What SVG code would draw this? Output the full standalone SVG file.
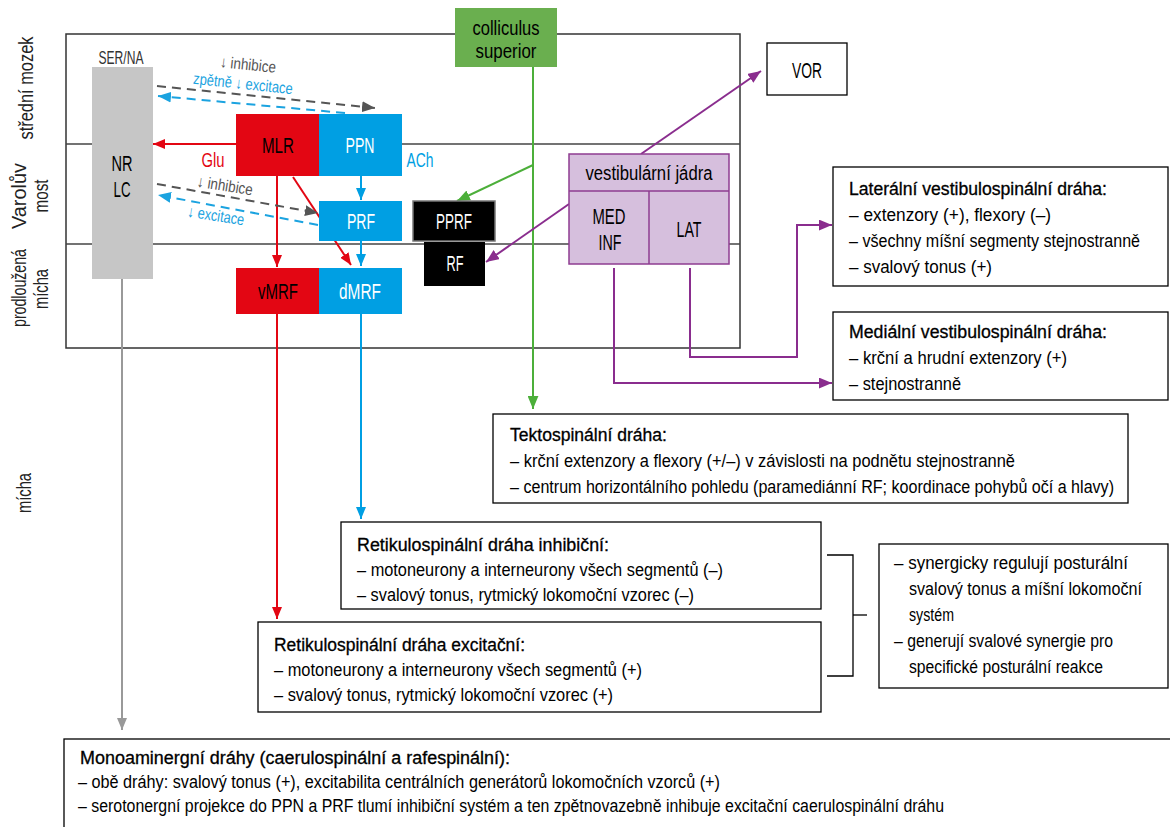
<svg xmlns="http://www.w3.org/2000/svg" width="1170" height="827" viewBox="0 0 1170 827">
<style>
text{font-family:"Liberation Sans",Arial,sans-serif;}
.lbl{font-size:22px;text-anchor:middle;}
.body{font-size:17.5px;fill:#000;}
.ttl{font-size:17.5px;fill:#000;stroke:#000;stroke-width:0.3;}
.side{font-size:21px;fill:#222;text-anchor:middle;}
.dl{font-size:16px;text-anchor:middle;}
.box{fill:#fff;stroke:#000;stroke-width:1.3;}
.ln{fill:none;stroke-width:2;}
</style>
<defs>
<marker id="aR" viewBox="0 0 12 10" refX="12" refY="5" markerWidth="12" markerHeight="10" markerUnits="userSpaceOnUse" orient="auto"><path d="M0,0L12,5L0,10z" fill="#e30613"/></marker>
<marker id="aB" viewBox="0 0 12 10" refX="12" refY="5" markerWidth="12" markerHeight="10" markerUnits="userSpaceOnUse" orient="auto"><path d="M0,0L12,5L0,10z" fill="#009fe3"/></marker>
<marker id="aG" viewBox="0 0 12 10" refX="12" refY="5" markerWidth="13" markerHeight="11" markerUnits="userSpaceOnUse" orient="auto"><path d="M0,0L12,5L0,10z" fill="#4caf3a"/></marker>
<marker id="aP" viewBox="0 0 12 10" refX="12" refY="5" markerWidth="13" markerHeight="11" markerUnits="userSpaceOnUse" orient="auto"><path d="M0,0L12,5L0,10z" fill="#8a2d8e"/></marker>
<marker id="aK" viewBox="0 0 12 10" refX="12" refY="5" markerWidth="13" markerHeight="11" markerUnits="userSpaceOnUse" orient="auto"><path d="M0,0L12,5L0,10z" fill="#555"/></marker>
<marker id="aL" viewBox="0 0 12 10" refX="12" refY="5" markerWidth="12" markerHeight="10" markerUnits="userSpaceOnUse" orient="auto"><path d="M0,0L12,5L0,10z" fill="#999"/></marker>
<marker id="aC" viewBox="0 0 12 10" refX="12" refY="5" markerWidth="13" markerHeight="11" markerUnits="userSpaceOnUse" orient="auto"><path d="M0,0L12,5L0,10z" fill="#1ba3e0"/></marker>
</defs>
<rect width="1170" height="827" fill="#fff"/>

<!-- side labels -->
<g id="side-labels">
<text class="side" transform="translate(33,88) rotate(-90)" textLength="103" lengthAdjust="spacingAndGlyphs">střední mozek</text>
<text class="side" transform="translate(26,196) rotate(-90)" textLength="66" lengthAdjust="spacingAndGlyphs">Varolův</text>
<text class="side" transform="translate(48,196) rotate(-90)" textLength="33" lengthAdjust="spacingAndGlyphs">most</text>
<text class="side" transform="translate(26,288) rotate(-90)" textLength="78" lengthAdjust="spacingAndGlyphs">prodloužená</text>
<text class="side" transform="translate(48,289) rotate(-90)" textLength="40" lengthAdjust="spacingAndGlyphs">mícha</text>
<text class="side" transform="translate(31,493) rotate(-90)" textLength="40" lengthAdjust="spacingAndGlyphs">mícha</text>
</g>

<!-- frame -->
<g id="frame">
<rect x="66" y="34" width="674" height="314" fill="none" stroke="#333" stroke-width="1.5"/>
<line x1="66" y1="144" x2="740" y2="144" stroke="#444" stroke-width="1.5"/>
<line x1="66" y1="244" x2="740" y2="244" stroke="#444" stroke-width="1.5"/>
</g>

<!-- connectors -->
<g id="connectors">
<line class="ln" x1="122" y1="279" x2="122" y2="730" stroke="#999" marker-end="url(#aL)"/>
<line class="ln" x1="236" y1="144" x2="153" y2="144" stroke="#e30613" marker-end="url(#aR)"/>
<line class="ln" x1="277" y1="176" x2="277" y2="267" stroke="#e30613" marker-end="url(#aR)"/>
<line class="ln" x1="293" y1="177" x2="351" y2="265" stroke="#e30613" marker-end="url(#aR)"/>
<line class="ln" x1="361" y1="176" x2="361" y2="200" stroke="#009fe3" marker-end="url(#aB)"/>
<line class="ln" x1="361" y1="241" x2="361" y2="266" stroke="#009fe3" marker-end="url(#aB)"/>
<line class="ln" x1="277" y1="314" x2="277" y2="619" stroke="#e30613" marker-end="url(#aR)"/>
<line class="ln" x1="361" y1="314" x2="361" y2="519" stroke="#009fe3" marker-end="url(#aB)"/>
<line class="ln" x1="533" y1="67" x2="533" y2="409" stroke="#4caf3a" marker-end="url(#aG)"/>
<line class="ln" x1="533" y1="165" x2="457" y2="201" stroke="#4caf3a" marker-end="url(#aG)"/>
<line class="ln" x1="641" y1="154" x2="761" y2="71" stroke="#8a2d8e" marker-end="url(#aP)"/>
<line class="ln" x1="569" y1="204" x2="486" y2="262" stroke="#8a2d8e" marker-end="url(#aP)"/>
<polyline class="ln" points="614,268 614,383 832,383" stroke="#8a2d8e" marker-end="url(#aP)"/>
<polyline class="ln" points="690,268 690,357 797,357 797,225 832,225" stroke="#8a2d8e" marker-end="url(#aP)"/>
<line class="ln" x1="157" y1="86" x2="375" y2="108" stroke="#555" stroke-dasharray="9,6" marker-end="url(#aK)"/>
<line class="ln" x1="345" y1="113" x2="158" y2="96" stroke="#1ba3e0" stroke-dasharray="9,6" marker-end="url(#aC)"/>
<line class="ln" x1="157" y1="184" x2="318" y2="213" stroke="#555" stroke-dasharray="9,6" marker-end="url(#aK)"/>
<line class="ln" x1="318" y1="225" x2="158" y2="195" stroke="#1ba3e0" stroke-dasharray="9,6" marker-end="url(#aC)"/>
<text class="dl" fill="#555" transform="translate(248,65) rotate(6)" y="5" textLength="56" lengthAdjust="spacingAndGlyphs">↓ inhibice</text>
<text class="dl" fill="#1ba3e0" transform="translate(243,84) rotate(6)" y="5" textLength="100" lengthAdjust="spacingAndGlyphs">zpětně ↓ excitace</text>
<text class="dl" fill="#555" transform="translate(225,186) rotate(9)" y="5" textLength="56" lengthAdjust="spacingAndGlyphs">↓ inhibice</text>
<text class="dl" fill="#1ba3e0" transform="translate(216,216) rotate(9)" y="5" textLength="57" lengthAdjust="spacingAndGlyphs">↓ excitace</text>
<text x="213" y="167" font-size="20" fill="#e30613" text-anchor="middle" textLength="23" lengthAdjust="spacingAndGlyphs">Glu</text>
<text x="420" y="167" font-size="20" fill="#009fe3" text-anchor="middle" textLength="27" lengthAdjust="spacingAndGlyphs">ACh</text>
<polyline points="827,555 853,555 853,676 827,676" fill="none" stroke="#000" stroke-width="1.3"/>
<line x1="853" y1="615" x2="867" y2="615" stroke="#000" stroke-width="1.3"/>
</g>

<!-- nodes -->
<g id="ser-na">
<rect x="92" y="67" width="61" height="212" fill="#c6c6c6"/>
<text x="121" y="64" font-size="18" fill="#333" text-anchor="middle" textLength="45" lengthAdjust="spacingAndGlyphs">SER/NA</text>
<text class="lbl" x="122" y="171" textLength="21" lengthAdjust="spacingAndGlyphs">NR</text>
<text class="lbl" x="122" y="197" textLength="17" lengthAdjust="spacingAndGlyphs">LC</text>
</g>
<g id="mlr">
<rect x="236" y="114" width="83" height="62" fill="#e30613"/>
<text class="lbl" x="278" y="153" fill="#000" textLength="32" lengthAdjust="spacingAndGlyphs">MLR</text>
</g>
<g id="ppn">
<rect x="319" y="114" width="83" height="62" fill="#009fe3"/>
<text class="lbl" x="360" y="153" fill="#fff" textLength="29" lengthAdjust="spacingAndGlyphs">PPN</text>
</g>
<g id="prf">
<rect x="319" y="201" width="83" height="40" fill="#009fe3"/>
<text class="lbl" x="361" y="229" fill="#fff" textLength="28" lengthAdjust="spacingAndGlyphs">PRF</text>
</g>
<g id="vmrf">
<rect x="236" y="268" width="83" height="46" fill="#e30613"/>
<text class="lbl" x="278" y="299" fill="#000" textLength="40" lengthAdjust="spacingAndGlyphs">vMRF</text>
</g>
<g id="dmrf">
<rect x="319" y="268" width="83" height="46" fill="#009fe3"/>
<text class="lbl" x="360" y="299" fill="#fff" textLength="42" lengthAdjust="spacingAndGlyphs">dMRF</text>
</g>
<g id="pprf">
<rect x="413" y="201" width="82" height="40" fill="#000" stroke="#777" stroke-width="1.5"/>
<text class="lbl" x="454" y="228.5" fill="#fff" textLength="36" lengthAdjust="spacingAndGlyphs">PPRF</text>
</g>
<g id="rf">
<rect x="424" y="242" width="61" height="44" fill="#000"/>
<text class="lbl" x="455" y="271" fill="#fff" textLength="17" lengthAdjust="spacingAndGlyphs">RF</text>
</g>
<g id="colliculus">
<rect x="455" y="8" width="102" height="59" fill="#6aaf4f"/>
<text x="506" y="35" font-size="21" fill="#000" text-anchor="middle" textLength="67" lengthAdjust="spacingAndGlyphs">colliculus</text>
<text x="506" y="58" font-size="21" fill="#000" text-anchor="middle" textLength="61" lengthAdjust="spacingAndGlyphs">superior</text>
</g>
<g id="vestibular">
<rect x="569" y="154" width="160" height="110" fill="#d6bfdd" stroke="#8e3d91" stroke-width="1.5"/>
<line x1="569" y1="191" x2="729" y2="191" stroke="#8e3d91" stroke-width="1.5"/>
<line x1="649" y1="191" x2="649" y2="264" stroke="#8e3d91" stroke-width="1.5"/>
<text x="649" y="180" font-size="20" fill="#000" text-anchor="middle" textLength="127" lengthAdjust="spacingAndGlyphs">vestibulární jádra</text>
<text class="lbl" x="609" y="224" textLength="33" lengthAdjust="spacingAndGlyphs">MED</text>
<text class="lbl" x="610" y="250" textLength="23" lengthAdjust="spacingAndGlyphs">INF</text>
<text class="lbl" x="689" y="237" textLength="25" lengthAdjust="spacingAndGlyphs">LAT</text>
</g>
<g id="vor">
<rect class="box" x="767" y="43" width="80" height="52"/>
<text class="lbl" x="807" y="78" textLength="30" lengthAdjust="spacingAndGlyphs">VOR</text>
</g>
<g id="lateral">
<rect class="box" x="833" y="167" width="335" height="119"/>
<text class="ttl" x="849" y="195" textLength="258" lengthAdjust="spacingAndGlyphs">Laterální vestibulospinální dráha:</text>
<text class="body" x="849" y="221" textLength="202" lengthAdjust="spacingAndGlyphs">– extenzory (+), flexory (–)</text>
<text class="body" x="849" y="247" textLength="291" lengthAdjust="spacingAndGlyphs">– všechny míšní segmenty stejnostranně</text>
<text class="body" x="849" y="273" textLength="143" lengthAdjust="spacingAndGlyphs">– svalový tonus (+)</text>
</g>
<g id="medial">
<rect class="box" x="833" y="312" width="335" height="88"/>
<text class="ttl" x="849" y="338" textLength="258" lengthAdjust="spacingAndGlyphs">Mediální vestibulospinální dráha:</text>
<text class="body" x="849" y="364" textLength="218" lengthAdjust="spacingAndGlyphs">– krční a hrudní extenzory (+)</text>
<text class="body" x="849" y="390" textLength="112" lengthAdjust="spacingAndGlyphs">– stejnostranně</text>
</g>
<g id="tecto">
<rect class="box" x="493" y="414" width="635" height="89"/>
<text class="ttl" x="510" y="441" textLength="157" lengthAdjust="spacingAndGlyphs">Tektospinální dráha:</text>
<text class="body" x="510" y="467" textLength="505" lengthAdjust="spacingAndGlyphs">– krční extenzory a flexory (+/–) v závislosti na podnětu stejnostranně</text>
<text class="body" x="510" y="493" textLength="604" lengthAdjust="spacingAndGlyphs">– centrum horizontálního pohledu (paramediánní RF; koordinace pohybů očí a hlavy)</text>
</g>
<g id="reti-inhib">
<rect class="box" x="341" y="522" width="480" height="87"/>
<text class="ttl" x="357" y="551" textLength="252" lengthAdjust="spacingAndGlyphs">Retikulospinální dráha inhibiční:</text>
<text class="body" x="357" y="576" textLength="366" lengthAdjust="spacingAndGlyphs">– motoneurony a interneurony všech segmentů (–)</text>
<text class="body" x="357" y="601" textLength="337" lengthAdjust="spacingAndGlyphs">– svalový tonus, rytmický lokomoční vzorec (–)</text>
</g>
<g id="reti-excit">
<rect class="box" x="258" y="622" width="563" height="90"/>
<text class="ttl" x="274" y="651" textLength="251" lengthAdjust="spacingAndGlyphs">Retikulospinální dráha excitační:</text>
<text class="body" x="274" y="676" textLength="368" lengthAdjust="spacingAndGlyphs">– motoneurony a interneurony všech segmentů (+)</text>
<text class="body" x="274" y="701" textLength="339" lengthAdjust="spacingAndGlyphs">– svalový tonus, rytmický lokomoční vzorec (+)</text>
</g>
<g id="synergy">
<rect class="box" x="879" y="544" width="289" height="144"/>
<text class="body" x="894" y="569" textLength="234" lengthAdjust="spacingAndGlyphs">– synergicky regulují posturální</text>
<text class="body" x="909" y="595" textLength="233" lengthAdjust="spacingAndGlyphs">svalový tonus a míšní lokomoční</text>
<text class="body" x="909" y="621" textLength="45" lengthAdjust="spacingAndGlyphs">systém</text>
<text class="body" x="894" y="647" textLength="219" lengthAdjust="spacingAndGlyphs">– generují svalové synergie pro</text>
<text class="body" x="909" y="673" textLength="194" lengthAdjust="spacingAndGlyphs">specifické posturální reakce</text>
</g>
<g id="monoamin">
<rect class="box" x="64" y="739" width="1130" height="110"/>
<text class="ttl" x="80" y="764" textLength="430" lengthAdjust="spacingAndGlyphs">Monoaminergní dráhy (caerulospinální a rafespinální):</text>
<text class="body" x="78" y="788" textLength="642" lengthAdjust="spacingAndGlyphs">– obě dráhy: svalový tonus (+), excitabilita centrálních generátorů lokomočních vzorců (+)</text>
<text class="body" x="78" y="812" textLength="866" lengthAdjust="spacingAndGlyphs">– serotonergní projekce do PPN a PRF tlumí inhibiční systém a ten zpětnovazebně inhibuje excitační caerulospinální dráhu</text>
</g>
</svg>
